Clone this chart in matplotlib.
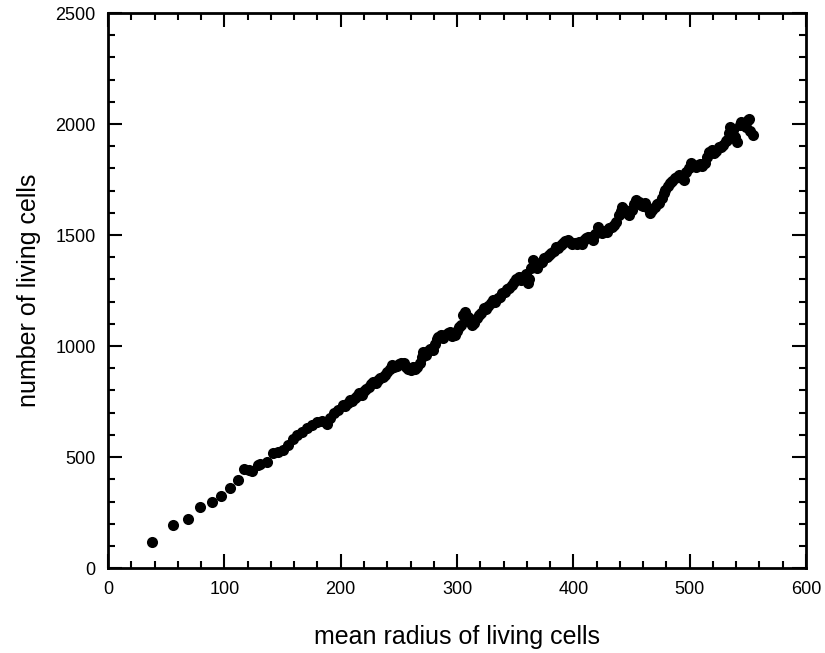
import matplotlib
matplotlib.use("Agg")
import matplotlib.pyplot as plt
from matplotlib.ticker import MultipleLocator

# mean radius of living cells
radius = [
    38, 56, 69, 79, 89, 97, 105, 112, 117, 121, 124, 129, 131, 137, 142, 146,
    150, 155, 159, 162, 167, 171, 175, 180, 184, 188, 191, 194, 198, 202,
    204, 206, 208, 210, 212, 214, 216, 218, 220, 222, 224, 226, 228, 230, 232,
    234, 236, 238, 240, 242, 244, 246, 248, 250, 252, 254, 256, 258, 260, 262,
    264, 266, 268, 270, 271, 273, 275, 277, 279, 281, 283, 284, 286, 288, 290,
    292, 294, 296, 298, 300, 302, 303, 305, 307, 309, 311, 313, 315, 317, 319,
    321, 323, 325, 327, 329, 331, 333, 335, 337, 339, 341, 343, 345, 347, 349,
    351, 353, 355, 357, 359, 361, 362, 364, 365, 367, 369, 371, 373, 375, 377,
    379, 381, 383, 385, 387, 389, 391, 393, 395, 397, 399, 401, 403, 405, 407,
    409, 411, 413, 415, 417, 419, 421, 423, 425, 427, 429, 431, 433, 435, 437,
    439, 441, 442, 444, 446, 448, 450, 452, 454, 456, 458, 460, 462, 464, 466,
    468, 470, 472, 474, 476, 478, 479, 481, 483, 485, 487, 489, 491, 493, 495,
    497, 499, 501, 503, 505, 507, 509, 511, 513, 515, 517, 519, 521, 523, 525,
    527, 529, 531, 532, 534, 535, 537, 539, 541, 543, 544, 546, 548, 550, 551,
    552, 554,
]

# number of living cells
cells = [
    118, 194, 221, 273, 299, 326, 359, 396, 446, 441, 438, 465, 471, 476, 517, 522,
    531, 554, 580, 599, 612, 629, 644, 659, 662, 649, 676, 697, 712, 734,
    728, 744, 757, 752, 768, 775, 787, 780, 798, 806, 815, 828, 839, 832, 848,
    855, 862, 870, 884, 898, 914, 905, 912, 918, 925, 922, 908, 898, 892, 904,
    896, 907, 925, 950, 974, 962, 978, 985, 982, 1010, 1030, 1042, 1048, 1038, 1052,
    1057, 1062, 1045, 1050, 1068, 1088, 1095, 1140, 1155, 1130, 1110, 1095, 1105, 1125, 1140,
    1147, 1170, 1168, 1180, 1195, 1207, 1200, 1215, 1222, 1240, 1245, 1255, 1262, 1275, 1290,
    1300, 1312, 1297, 1310, 1325, 1282, 1300, 1350, 1387, 1365, 1352, 1372, 1380, 1395, 1402,
    1410, 1420, 1430, 1447, 1440, 1455, 1465, 1475, 1480, 1470, 1458, 1466, 1462, 1470, 1462,
    1478, 1485, 1490, 1492, 1477, 1505, 1537, 1520, 1510, 1518, 1515, 1530, 1537, 1545, 1560,
    1590, 1610, 1627, 1615, 1600, 1590, 1612, 1640, 1658, 1650, 1635, 1630, 1645, 1620, 1598,
    1615, 1628, 1640, 1643, 1665, 1690, 1703, 1720, 1735, 1745, 1755, 1763, 1770, 1758, 1748,
    1785, 1800, 1823, 1812, 1808, 1815, 1820, 1810, 1825, 1850, 1875, 1883, 1870, 1880, 1895,
    1898, 1905, 1925, 1928, 1960, 1988, 1972, 1940, 1920, 1995, 2010, 2000, 1985, 2020, 2025,
    1970, 1950,
]

plt.rcParams["font.family"] = ["Liberation Sans", "DejaVu Sans"]

fig = plt.figure(figsize=(8.25, 6.53), dpi=100)
ax = fig.add_axes([0.131, 0.130, 0.846, 0.850])

ax.plot(radius, cells, "o", color="black", markersize=8, markeredgewidth=0)

ax.set_xlim(0, 600)
ax.set_ylim(0, 2500)
ax.xaxis.set_major_locator(MultipleLocator(100))
ax.xaxis.set_minor_locator(MultipleLocator(20))
ax.yaxis.set_major_locator(MultipleLocator(500))
ax.yaxis.set_minor_locator(MultipleLocator(100))
ax.tick_params(which="both", direction="in", top=True, right=True,
               width=1.5, labelsize=13, colors="black")
ax.tick_params(which="major", length=10, pad=9)
ax.tick_params(which="minor", length=5)
for s in ax.spines.values():
    s.set_linewidth(2)

ax.set_xlabel("mean radius of living cells", fontsize=18, labelpad=20)
ax.set_ylabel("number of living cells", fontsize=18, labelpad=10)

fig.savefig("out.png", dpi=100)
